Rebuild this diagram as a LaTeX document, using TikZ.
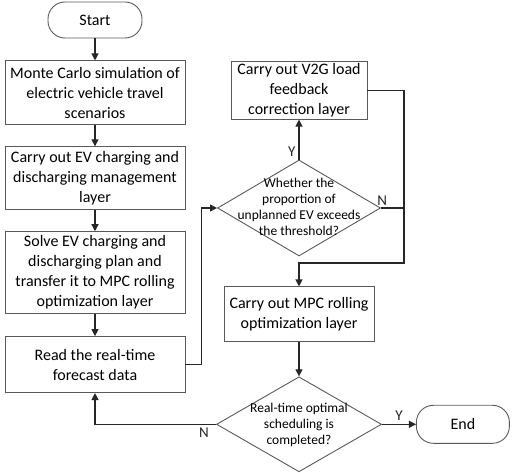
\documentclass[tikz,border=0pt]{standalone}
\usepackage{fontspec}
\setmainfont{Carlito}
\usepackage{tikz}
\usetikzlibrary{shapes.geometric, arrows.meta, positioning}
\usepackage{xcolor}

\begin{document}
\begin{tikzpicture}[
  x=1pt, y=1pt,
  block/.style={rectangle, draw=black!65, line width=0.9pt, minimum width=180pt, align=center, font=\fontsize{16}{20}\selectfont, inner sep=2pt},
  terminal/.style={rectangle, rounded corners=17pt, draw=black!65, line width=0.9pt, minimum width=94pt, minimum height=36pt, font=\fontsize{16}{20}\selectfont},
  decision/.style={diamond, draw=black!65, line width=0.9pt, inner sep=0pt, minimum width=163pt, minimum height=96pt},
  dtext/.style={align=center, font=\fontsize{13.5}{16}\selectfont, inner sep=0pt},
  arrow/.style={-{Triangle[length=7pt, width=7pt]}, line width=1.2pt, black!85},
  line/.style={line width=1.2pt, black!85},
  yn/.style={font=\fontsize{15}{17}\selectfont, inner sep=1pt}
]
\useasboundingbox (0,0) rectangle (512,-473);

% left column
\node[terminal] (start) at (95,-20) {Start};
\node[block, minimum height=64pt, below=22pt of start] (monte) {Monte Carlo simulation of\\electric vehicle travel\\scenarios};
\node[block, minimum height=63pt, below=21pt of monte] (evlayer) {Carry out EV charging and\\discharging management\\layer};
\node[block, minimum height=82pt, below=21pt of evlayer] (plan) {Solve EV charging and\\discharging plan and\\transfer it to MPC rolling\\optimization layer};
\node[block, minimum height=56pt, below=22pt of plan] (forecast) {Read the real-time\\forecast data};

% right column
\node[decision] (ratio) at (299,-208) {};
\node[dtext] (ratiotxt) at (299,-207) {Whether the\\proportion of\\unplanned EV exceeds\\the threshold?};
\node[block, minimum width=136pt, minimum height=56pt, above=40pt of ratio] (v2g) {Carry out V2G load\\feedback\\correction layer};
\node[block, minimum width=150pt, minimum height=55pt, below=30pt of ratio] (mpc) {Carry out MPC rolling\\optimization layer};
\node[decision, minimum width=165pt, minimum height=95pt, below=34pt of mpc] (done) {};
\node[dtext] (donetxt) at ([yshift=-1pt]done.center) {Real-time optimal\\scheduling is\\completed?};
\node[terminal, minimum width=93pt, minimum height=38pt, right=34pt of done] (end) {End};

\coordinate (merge) at (404,-263);

% connectors
\draw[arrow] (start) -- (monte);
\draw[arrow] (monte) -- (evlayer);
\draw[arrow] (evlayer) -- (plan);
\draw[arrow] (plan) -- (forecast);
\draw[arrow] (forecast.east) -- ++(16,0) |- (ratio.west);
\draw[arrow] (ratio.north) -- node[yn, pos=0.2, left=2pt] {Y} (v2g.south);
\draw[arrow] (v2g.east) -| (merge) -| (mpc.north);
\draw[line] (ratio.east) -- node[yn, pos=0.05, above=1pt] {N} (ratio.east -| merge);
\draw[arrow] (mpc) -- (done);
\draw[arrow] (done.east) -- node[yn, above=2pt] {Y} (end.west);
\draw[arrow] (done.west) -- node[yn, pos=0.1, below=2pt] {N} (done.west -| forecast.south) -- (forecast.south);

\end{tikzpicture}
\end{document}
